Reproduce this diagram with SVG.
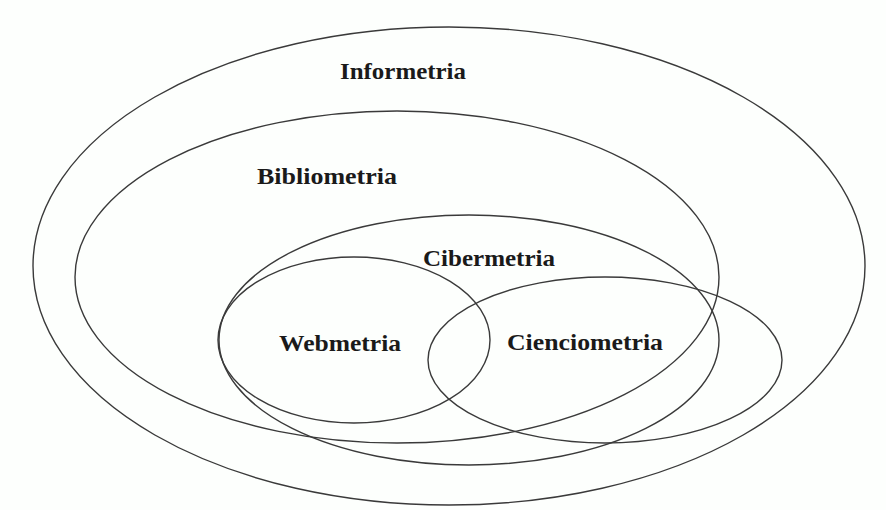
<svg xmlns="http://www.w3.org/2000/svg" width="886" height="510" viewBox="0 0 886 510">
<style>
.set{fill:none;stroke:#3a3a3a;stroke-width:1.4}
.lbl{font-family:"Liberation Serif","Times New Roman",serif;font-size:24px;font-weight:bold;fill:#1a1a1a}
</style>
<rect width="886" height="510" fill="#fdfffd"/>
<g id="informetria">
<ellipse class="set" cx="449" cy="266" rx="416" ry="239"/>
<text class="lbl" x="340" y="79" textLength="126" lengthAdjust="spacingAndGlyphs">Informetria</text>
</g>
<g id="bibliometria">
<ellipse class="set" cx="397" cy="277" rx="322" ry="166"/>
<text class="lbl" x="257" y="184" textLength="140" lengthAdjust="spacingAndGlyphs">Bibliometria</text>
</g>
<g id="cibermetria">
<ellipse class="set" cx="469" cy="340" rx="250" ry="125"/>
<text class="lbl" x="423" y="266" textLength="132" lengthAdjust="spacingAndGlyphs">Cibermetria</text>
</g>
<g id="webmetria">
<ellipse class="set" cx="354" cy="340" rx="136" ry="83"/>
<text class="lbl" x="279" y="351" textLength="122" lengthAdjust="spacingAndGlyphs">Webmetria</text>
</g>
<g id="cienciometria">
<ellipse class="set" cx="605" cy="360" rx="177" ry="83"/>
<text class="lbl" x="507" y="350" textLength="156" lengthAdjust="spacingAndGlyphs">Cienciometria</text>
</g>
<g id="connectors"/>
</svg>
